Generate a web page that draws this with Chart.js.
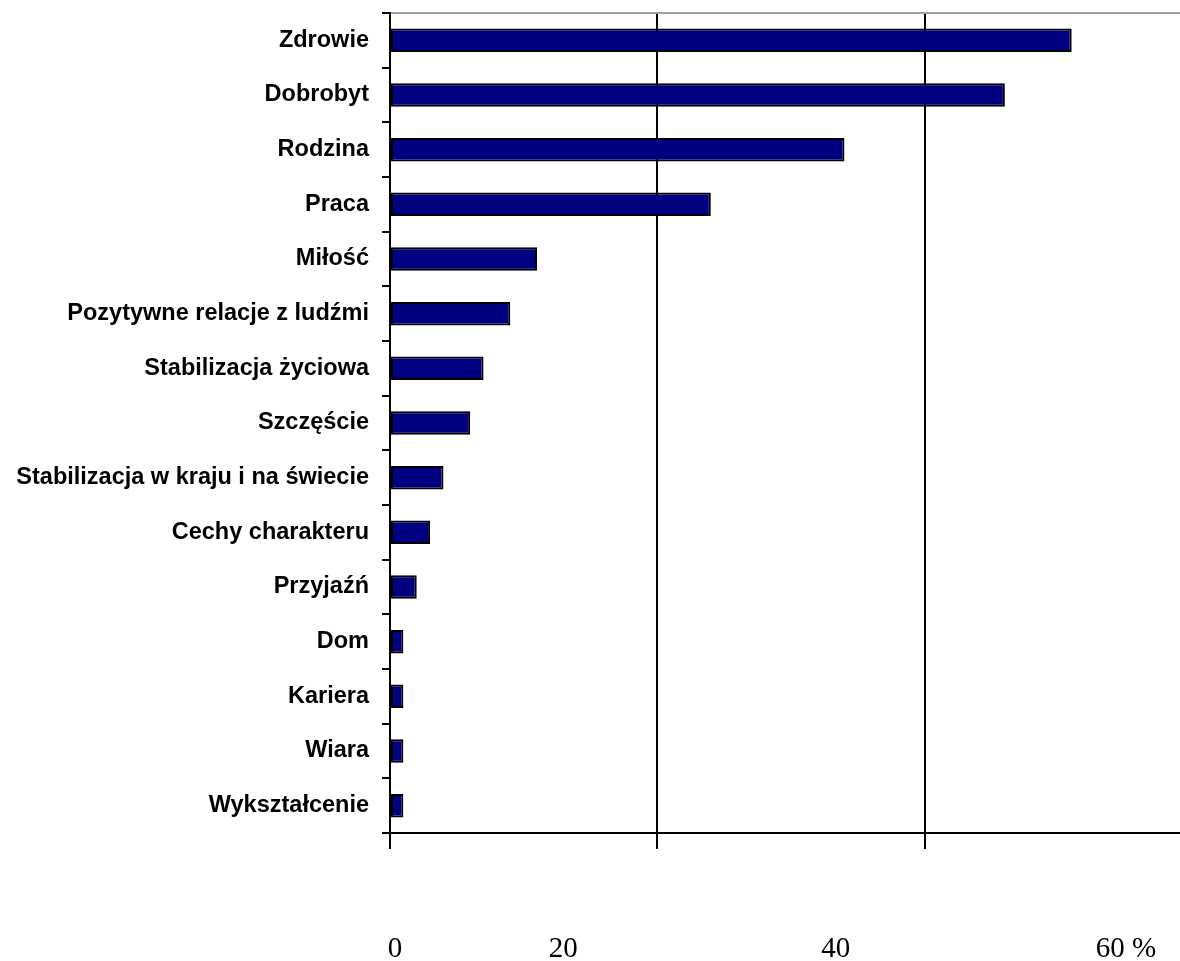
<!DOCTYPE html>
<html lang="pl">
<head>
<meta charset="utf-8">
<title>Wartości</title>
<script src="https://cdn.jsdelivr.net/npm/chart.js@4.4.1/dist/chart.umd.min.js"></script>
<style>
    html, body { margin: 0; padding: 0; background: #fff; overflow: hidden; }
    #wrap { width: 1192px; height: 961px; }
</style>
</head>
<body>
<div id="wrap"><canvas id="valuesChart" width="1192" height="961"></canvas></div>
<script>
    // categories, top to bottom
    const CATEGORIES = [
        'Zdrowie', 'Dobrobyt', 'Rodzina', 'Praca', 'Miłość',
        'Pozytywne relacje z ludźmi', 'Stabilizacja życiowa', 'Szczęście',
        'Stabilizacja w kraju i na świecie', 'Cechy charakteru', 'Przyjaźń',
        'Dom', 'Kariera', 'Wiara', 'Wykształcenie'
    ];
    // percent of answers
    const VALUES = [51, 46, 34, 24, 11, 9, 7, 6, 4, 3, 2, 1, 1, 1, 1];

    const X_TICKS = [0, 20, 40, 60];
    const X_TICK_LABELS = ['0', '20', '40', '60 %'];

    // the printed labels do not sit under their grid lines, shift them like the original
    const LABEL_SHIFT = [5, -94, -89, -66];

    const xLabelsPlugin = {
        id: 'xLabels',
        afterDraw(chart) {
            const ctx = chart.ctx;
            const xs = chart.scales.x;
            ctx.save();
            ctx.font = '29px "Liberation Serif", "Times New Roman", serif';
            ctx.fillStyle = '#000';
            ctx.textAlign = 'center';
            ctx.textBaseline = 'alphabetic';
            X_TICKS.forEach((v, i) => {
                ctx.fillText(X_TICK_LABELS[i], xs.getPixelForValue(v) + LABEL_SHIFT[i], chart.chartArea.bottom + 124);
            });
            ctx.restore();
        }
    };

    new Chart(document.getElementById('valuesChart'), {
        type: 'bar',
        data: {
            labels: CATEGORIES,
            datasets: [{
                data: VALUES,
                backgroundColor: '#000080',
                borderColor: '#000',
                borderWidth: 2,
                borderSkipped: false,
                categoryPercentage: 1,
                barPercentage: 0.43
            }]
        },
        options: {
            indexAxis: 'y',
            responsive: false,
            animation: false,
            layout: { padding: { left: 12, top: 13, bottom: 112, right: 0 } },
            plugins: { legend: { display: false }, tooltip: { enabled: false } },
            scales: {
                x: {
                    type: 'linear',
                    min: 0,
                    max: 60,
                    afterBuildTicks: s => { s.ticks = X_TICKS.map(v => ({ value: v })); },
                    ticks: { display: false },
                    grid: { color: '#000', lineWidth: 2, tickLength: 16 },
                    border: { color: '#000', width: 2 }
                },
                x2: {
                    type: 'linear',
                    position: 'top',
                    ticks: { display: false },
                    grid: { drawOnChartArea: false, drawTicks: false },
                    border: { color: '#a0a0a0', width: 2 }
                },
                y: {
                    afterFit: s => {
                        s.width = 378;
                        s.paddingTop = 0;
                        s.paddingBottom = 0;
                    },
                    ticks: {
                        color: '#000',
                        padding: 13,
                        font: { family: '"Liberation Sans", Arial, sans-serif', size: 23.5, weight: 'bold' }
                    },
                    grid: { drawOnChartArea: false, color: '#000', lineWidth: 2, tickLength: 8 },
                    border: { color: '#000', width: 2 }
                }
            }
        },
        plugins: [xLabelsPlugin]
    });
</script>
</body>
</html>
